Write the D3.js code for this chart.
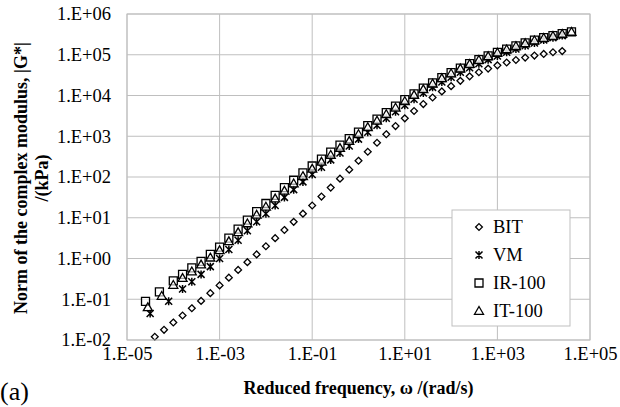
<!DOCTYPE html>
<html><head><meta charset="utf-8">
<script src="https://cdn.jsdelivr.net/npm/d3@7"></script>
<style>body{margin:0;background:#fff}</style>
</head><body><div id="chart"></div>
<script>
// values stored as log10 exponents
const xTicks = ["1.E-05", "1.E-03", "1.E-01", "1.E+01", "1.E+03", "1.E+05"]
const yTicks = ["1.E-02", "1.E-01", "1.E+00", "1.E+01", "1.E+02", "1.E+03", "1.E+04", "1.E+05", "1.E+06"]
const seriesNames = ["BIT", "VM", "IR-100", "IT-100"]

const bitX = [-4.4,-4.2,-4.0,-3.8,-3.6,-3.4,-3.2,-3.0,-2.8,-2.6,-2.4,-2.2,-2.0,-1.8,-1.6,-1.4,-1.2,-1.0,-0.8,-0.6,-0.4,-0.2,0,0.2,0.4,0.6,0.8,1.0,1.2,1.4,1.6,1.8,2.0,2.2,2.4,2.6,2.8,3.0,3.2,3.4,3.6,3.8,4.0,4.2,4.4]
const bitY = [-1.92,-1.75,-1.57,-1.4,-1.22,-1.04,-0.85,-0.66,-0.47,-0.28,-0.09,0.1,0.3,0.5,0.7,0.9,1.1,1.3,1.52,1.74,1.96,2.18,2.4,2.62,2.84,3.05,3.25,3.44,3.62,3.79,3.95,4.1,4.23,4.36,4.47,4.57,4.66,4.74,4.81,4.87,4.93,4.98,5.02,5.06,5.09]

const vmX = [-4.5,-4.1,-3.8,-3.6,-3.4,-3.2,-3.0,-2.8,-2.6,-2.4,-2.2,-2.0,-1.8,-1.6,-1.4,-1.2,-1.0,-0.8,-0.6,-0.4,-0.2,0,0.2,0.4,0.6,0.8,1.0,1.2,1.4,1.6,1.8,2.0,2.2,2.4,2.6,2.8,3.0,3.2,3.4,3.6,3.8,4.0,4.2,4.4]
const vmY = [-1.35,-1.05,-0.75,-0.57,-0.39,-0.2,0.0,0.22,0.45,0.68,0.9,1.1,1.3,1.5,1.69,1.88,2.06,2.24,2.42,2.59,2.76,2.93,3.1,3.27,3.44,3.6,3.76,3.91,4.06,4.2,4.33,4.45,4.57,4.68,4.78,4.88,4.97,5.06,5.14,5.22,5.29,5.36,5.42,5.47]

const irX = [-4.6,-4.3,-4.0,-3.8,-3.6,-3.4,-3.2,-3.0,-2.8,-2.6,-2.4,-2.2,-2.0,-1.8,-1.6,-1.4,-1.2,-1.0,-0.8,-0.6,-0.4,-0.2,0,0.2,0.4,0.6,0.8,1.0,1.2,1.4,1.6,1.8,2.0,2.2,2.4,2.6,2.8,3.0,3.2,3.4,3.6,3.8,4.0,4.2,4.4,4.6]
const irY = [-1.05,-0.82,-0.55,-0.39,-0.23,-0.07,0.1,0.28,0.5,0.72,0.94,1.15,1.35,1.55,1.74,1.92,2.1,2.27,2.44,2.61,2.78,2.94,3.1,3.26,3.42,3.58,3.74,3.9,4.04,4.18,4.31,4.44,4.56,4.67,4.78,4.88,4.97,5.06,5.14,5.22,5.29,5.36,5.42,5.47,5.52,5.56]

const itX = [-4.55,-4.25,-4.0,-3.8,-3.6,-3.4,-3.2,-3.0,-2.8,-2.6,-2.4,-2.2,-2.0,-1.8,-1.6,-1.4,-1.2,-1.0,-0.8,-0.6,-0.4,-0.2,0,0.2,0.4,0.6,0.8,1.0,1.2,1.4,1.6,1.8,2.0,2.2,2.4,2.6,2.8,3.0,3.2,3.4,3.6,3.8,4.0,4.2,4.4,4.6]
const itY = [-1.2,-0.92,-0.65,-0.48,-0.32,-0.15,0.02,0.2,0.42,0.64,0.86,1.07,1.27,1.47,1.66,1.84,2.02,2.2,2.37,2.54,2.71,2.88,3.05,3.22,3.38,3.54,3.7,3.86,4.01,4.15,4.29,4.42,4.54,4.66,4.77,4.87,4.96,5.05,5.13,5.21,5.28,5.35,5.41,5.46,5.51,5.56]

const FONT = "Liberation Serif"
const margin = { top: 14, left: 127, right: 30, bottom: 67 }
const width = 620 - margin.left - margin.right
const height = 407 - margin.top - margin.bottom

const svg = d3.select("#chart").append("svg").attr("width", 620).attr("height", 407)
    .attr("font-family", FONT)
const g = svg.append("g").attr("transform", `translate(${margin.left},${margin.top})`)

const x = d3.scaleLog().domain([1e-5, 1e5]).range([0, width])
const y = d3.scaleLog().domain([1e-2, 1e6]).range([height, 0])
const xVals = xTicks.map(Number)
const yVals = yTicks.map(Number)

// gridlines
g.selectAll(".gx").data(xVals).enter().append("line")
    .attr("x1", d => x(d)).attr("x2", d => x(d)).attr("y1", 0).attr("y2", height)
    .attr("stroke", "#bfbfbf").attr("stroke-width", 1)
g.selectAll(".gy").data(yVals).enter().append("line")
    .attr("y1", d => y(d)).attr("y2", d => y(d)).attr("x1", 0).attr("x2", width)
    .attr("stroke", "#bfbfbf").attr("stroke-width", 1)

const xAxis = g.append("g").attr("transform", `translate(0,${height})`)
    .call(d3.axisBottom(x).tickValues(xVals).tickFormat((d, i) => xTicks[i]).tickSize(0).tickPadding(7))
const yAxis = g.append("g")
    .call(d3.axisLeft(y).tickValues(yVals).tickFormat((d, i) => yTicks[i]).tickSize(0).tickPadding(16))
;[xAxis, yAxis].forEach(a => {
    a.attr("font-family", FONT).attr("font-size", 18.5)
    a.select(".domain").remove()
    a.selectAll("text").attr("fill", "#000")
})

const symbols = {
    BIT: "M0,-3.4L3.4,0L0,3.4L-3.4,0Z",
    "IR-100": "M-4,-4H4V4H-4Z",
    "IT-100": "M0,-4.5L4.5,3.3H-4.5Z"
}
const starPath = "M-3.5,-3.5L3.5,3.5M-3.5,3.5L3.5,-3.5M0,-4L0,4"

const series = [
    { name: "BIT", xs: bitX, ys: bitY },
    { name: "VM", xs: vmX, ys: vmY },
    { name: "IR-100", xs: irX, ys: irY },
    { name: "IT-100", xs: itX, ys: itY }
]

function drawMark(sel, name) {
    if (name === "VM")
        sel.append("path").attr("d", starPath).attr("stroke", "#000").attr("stroke-width", 1.5).attr("fill", "none")
    else
        sel.append("path").attr("d", symbols[name]).attr("stroke", "#000").attr("stroke-width", 1.3).attr("fill", "#fff").attr("fill-opacity", 0.6)
}

series.forEach(s => {
    s.xs.forEach((lx, i) => {
        const p = g.append("g").attr("transform", `translate(${x(Math.pow(10, lx))},${y(Math.pow(10, s.ys[i]))})`)
        drawMark(p, s.name)
    })
})

g.append("rect").attr("width", width).attr("height", height).attr("fill", "none").attr("stroke", "#bfbfbf")

// legend
const leg = svg.append("g").attr("transform", "translate(452,210)")
leg.append("rect").attr("width", 118).attr("height", 116).attr("fill", "#fff").attr("stroke", "#bfbfbf")
seriesNames.forEach((n, i) => {
    const row = leg.append("g").attr("transform", `translate(0,${17 + i * 28})`)
    drawMark(row.append("g").attr("transform", "translate(27,0)"), n)
    row.append("text").attr("x", 41).attr("y", 6).attr("font-size", 18.5).text(n)
})

svg.append("text").attr("x", margin.left + width / 2).attr("y", 394).attr("text-anchor", "middle")
    .attr("font-size", 18).attr("font-weight", "bold").text("Reduced frequency, ω /(rad/s)")
svg.append("text").attr("transform", "translate(27,178)rotate(-90)").attr("text-anchor", "middle")
    .attr("font-size", 18).attr("font-weight", "bold").text("Norm of the complex modulus, |G*|")
svg.append("text").attr("transform", "translate(48,178)rotate(-90)").attr("text-anchor", "middle")
    .attr("font-size", 18).attr("font-weight", "bold").text("/(kPa)")
svg.append("text").attr("x", 0).attr("y", 400).attr("font-size", 26).text("(a)")
</script></body></html>
